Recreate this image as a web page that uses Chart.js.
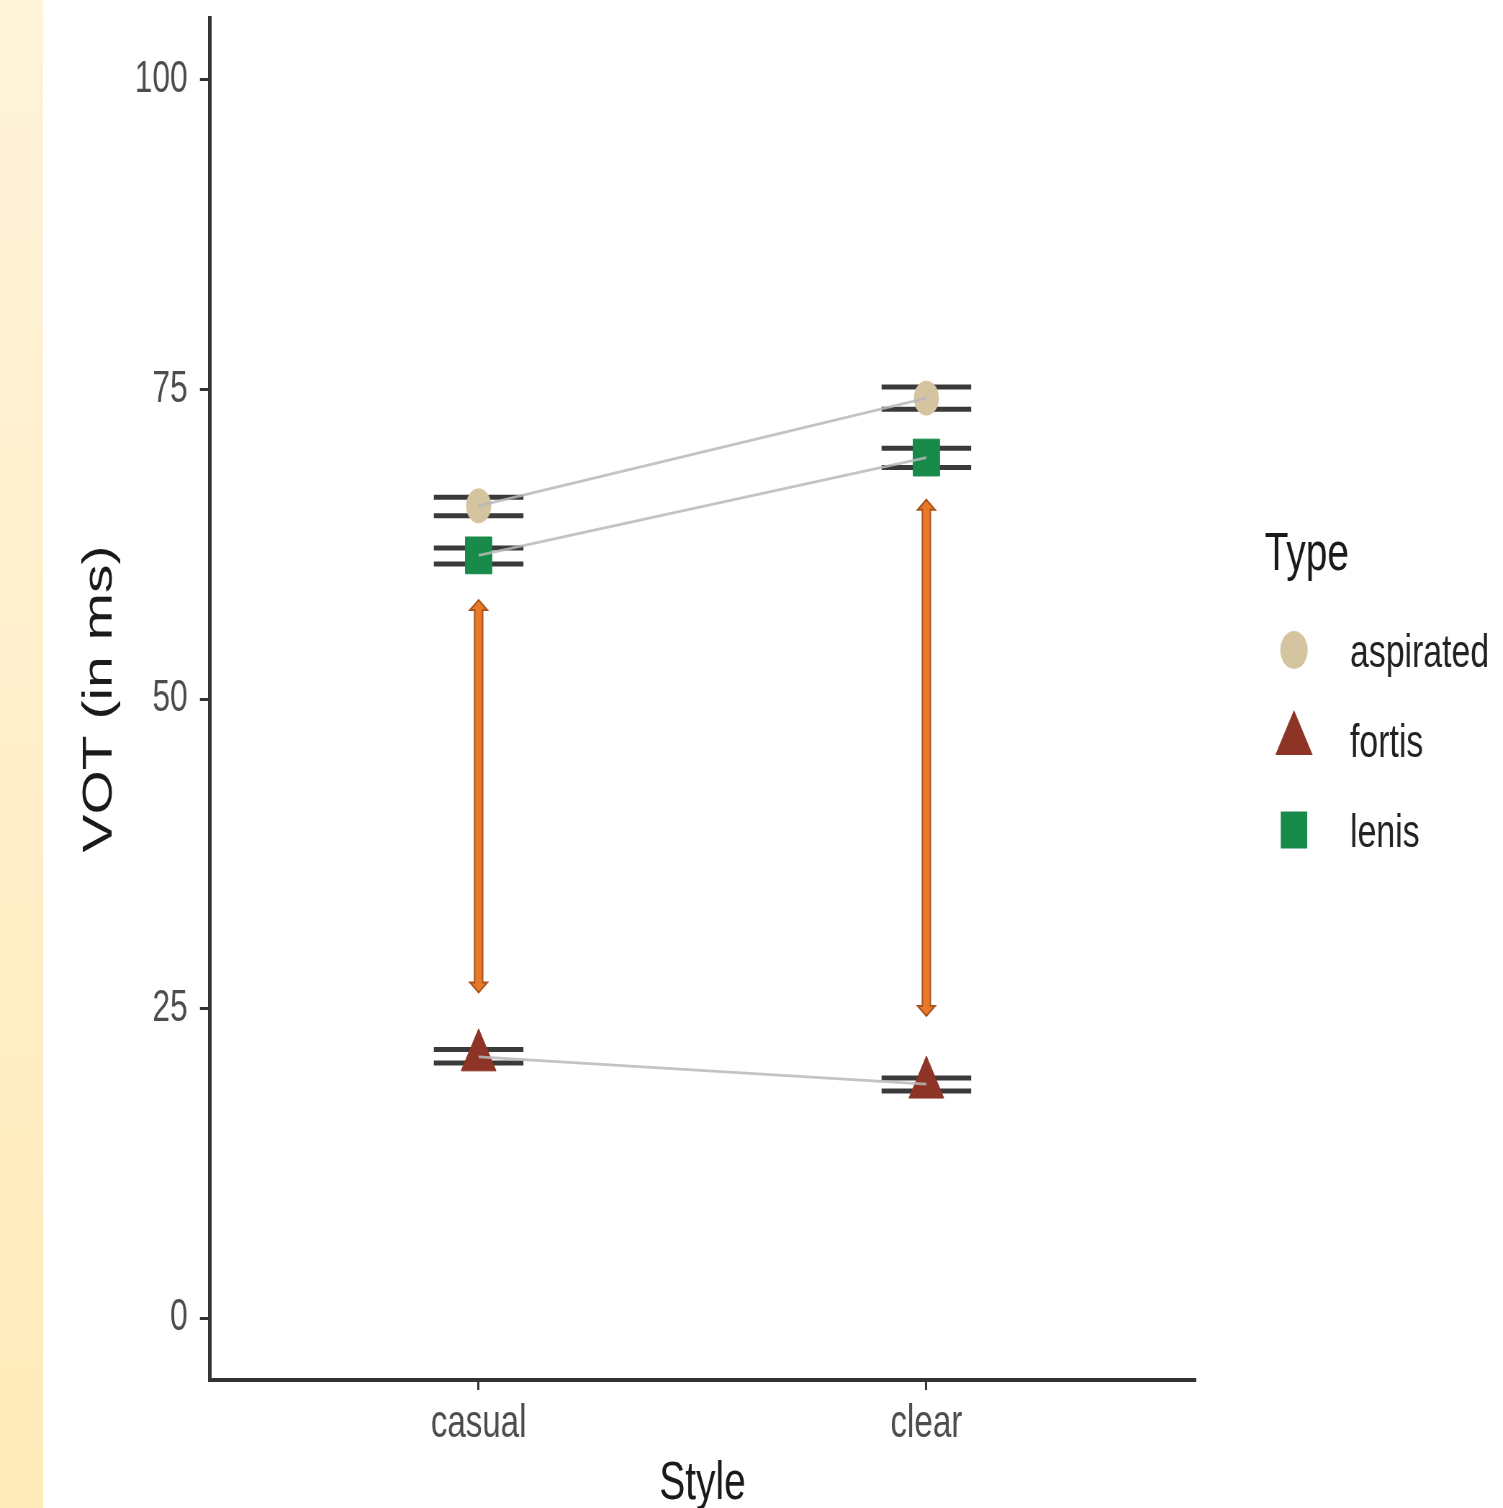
<!DOCTYPE html>
<html>
<head>
<meta charset="utf-8">
<title>VOT by speaking style</title>
<script src="https://cdn.jsdelivr.net/npm/chart.js@4.4.1/dist/chart.umd.min.js"></script>
<style>
  html, body { margin: 0; padding: 0; background: #ffffff; overflow: hidden; width: 1503px; height: 1508px; }
  #strip { position: absolute; left: 0; top: 0; width: 43px; height: 1508px;
           background: linear-gradient(#FFF3DA, #FFEAB9); }
  #wrap { position: absolute; left: 0; top: 0; width: 1503px; height: 1508px; overflow: hidden; }
  #plot { position: absolute; left: 0; top: 0; transform-origin: 0 0; }
</style>
</head>
<body>
<div id="strip"></div>
<div id="wrap"><canvas id="plot"></canvas></div>
<script>
// ---- data ----
const styles = ['casual', 'clear'];
const yTicks = [0, 25, 50, 75, 100];

const aspiratedMean = [65.6, 74.3];
const aspiratedLow  = [64.8, 73.4];
const aspiratedHigh = [66.3, 75.2];

const fortisMean = [21.1, 18.9];
const fortisLow  = [20.6, 18.35];
const fortisHigh = [21.7, 19.4];

const lenisMean = [61.6, 69.5];
const lenisLow  = [60.9, 68.7];
const lenisHigh = [62.2, 70.25];

// VOT gap between lenis/aspirated and fortis, per style
const gapTop    = [58.0, 66.1];
const gapBottom = [26.3, 24.4];

// ---- look ----
const SQUEEZE = 0.7198;                 // horizontal compression of the figure
const W = Math.round(1503 / SQUEEZE);   // drawing width before compression
const H = 1508;
const FONT = '"Liberation Sans", Arial, Helvetica, sans-serif';
const ERR_HALF = 0.1;                   // half-width of error-bar caps, in category units

const series = [
  { label: 'aspirated', mean: aspiratedMean, low: aspiratedLow, high: aspiratedHigh,
    color: '#D4C4A0', shape: 'circle', r: 17, legendR: 19 },
  { label: 'fortis', mean: fortisMean, low: fortisLow, high: fortisHigh,
    color: '#8E3427', shape: 'triangle', r: 28, legendR: 30 },
  { label: 'lenis', mean: lenisMean, low: lenisLow, high: lenisHigh,
    color: '#188A4A', shape: 'rect', r: 26, legendR: 26 }
];

const canvas = document.getElementById('plot');
canvas.width = W;
canvas.height = H;
canvas.style.width = W + 'px';
canvas.style.height = H + 'px';
canvas.style.transform = 'scaleX(' + SQUEEZE + ')';

const toPoints = arr => arr.map((v, i) => ({ x: i, y: v }));

const datasets = [];
series.forEach(s => {
  datasets.push({
    label: s.label,
    data: toPoints(s.mean),
    showLine: false,
    pointStyle: s.shape,
    pointRadius: s.r,
    pointBackgroundColor: s.color,
    pointBorderColor: s.color,
    pointBorderWidth: 1,
    order: 2
  });
  datasets.push({
    label: s.label + ' trend',
    data: toPoints(s.mean),
    showLine: true,
    borderColor: 'rgba(185,185,185,0.85)',
    borderWidth: 2.8,
    pointRadius: 0,
    fill: false,
    order: 1
  });
});

function drawMarker(ctx, shape, x, y, r, color) {
  ctx.save();
  ctx.fillStyle = color;
  ctx.beginPath();
  if (shape === 'circle') {
    ctx.arc(x, y, r, 0, Math.PI * 2);
  } else if (shape === 'triangle') {
    let a = 0;
    ctx.moveTo(x + Math.sin(a) * r, y - Math.cos(a) * r);
    a += Math.PI * 2 / 3;
    ctx.lineTo(x + Math.sin(a) * r, y - Math.cos(a) * r);
    a += Math.PI * 2 / 3;
    ctx.lineTo(x + Math.sin(a) * r, y - Math.cos(a) * r);
    ctx.closePath();
  } else {
    const h = r * Math.SQRT1_2;
    ctx.rect(x - h, y - h, 2 * h, 2 * h);
  }
  ctx.fill();
  ctx.restore();
}

const errorBars = {
  id: 'errorBars',
  beforeDatasetsDraw(chart) {
    const { ctx, scales: { x, y } } = chart;
    ctx.save();
    ctx.strokeStyle = '#3a3a3a';
    series.forEach(s => {
      s.mean.forEach((m, i) => {
        const xl = x.getPixelForValue(i - ERR_HALF);
        const xr = x.getPixelForValue(i + ERR_HALF);
        const xc = x.getPixelForValue(i);
        const yl = y.getPixelForValue(s.low[i]);
        const yh = y.getPixelForValue(s.high[i]);
        ctx.lineWidth = 5;
        ctx.beginPath();
        ctx.moveTo(xl, yh); ctx.lineTo(xr, yh);
        ctx.moveTo(xl, yl); ctx.lineTo(xr, yl);
        ctx.stroke();
        ctx.lineWidth = 3;
        ctx.beginPath();
        ctx.moveTo(xc, yh); ctx.lineTo(xc, yl);
        ctx.stroke();
      });
    });
    ctx.restore();
  }
};

const gapArrows = {
  id: 'gapArrows',
  afterDatasetsDraw(chart) {
    const { ctx, scales: { x, y } } = chart;
    const sw = 5.6, hw = 12, hl = 10;
    ctx.save();
    ctx.fillStyle = '#E8792B';
    ctx.strokeStyle = '#A9521A';
    ctx.lineWidth = 2;
    ctx.lineJoin = 'miter';
    styles.forEach((st, i) => {
      const cx = x.getPixelForValue(i);
      const t = y.getPixelForValue(gapTop[i]);
      const b = y.getPixelForValue(gapBottom[i]);
      ctx.beginPath();
      ctx.moveTo(cx, t);
      ctx.lineTo(cx + hw, t + hl);
      ctx.lineTo(cx + sw, t + hl);
      ctx.lineTo(cx + sw, b - hl);
      ctx.lineTo(cx + hw, b - hl);
      ctx.lineTo(cx, b);
      ctx.lineTo(cx - hw, b - hl);
      ctx.lineTo(cx - sw, b - hl);
      ctx.lineTo(cx - sw, t + hl);
      ctx.lineTo(cx - hw, t + hl);
      ctx.closePath();
      ctx.fill();
      ctx.stroke();
    });
    ctx.restore();
  }
};

const typeLegend = {
  id: 'typeLegend',
  afterDraw(chart) {
    const { ctx } = chart;
    const markerX = 1797.7, textX = 1875.5;
    const rows = [650, 740, 830];
    ctx.save();
    ctx.fillStyle = '#1a1a1a';
    ctx.font = '54px ' + FONT;
    ctx.textAlign = 'left';
    ctx.textBaseline = 'alphabetic';
    ctx.fillText('Type', 1757, 570);
    ctx.font = '47px ' + FONT;
    series.forEach((s, i) => {
      drawMarker(ctx, s.shape, markerX, rows[i], s.legendR, s.color);
      ctx.fillStyle = '#222222';
      ctx.fillText(s.label, textX, rows[i] + 17);
    });
    ctx.restore();
  }
};

// keep tick labels from pushing the plot area inward
function clearEdgePadding(scale) {
  scale.paddingTop = 0;
  scale.paddingBottom = 0;
  scale.paddingLeft = 0;
  scale.paddingRight = 0;
}

new Chart(canvas, {
  type: 'scatter',
  data: { datasets },
  plugins: [errorBars, gapArrows, typeLegend],
  options: {
    responsive: false,
    animation: false,
    devicePixelRatio: 1,
    events: [],
    layout: { autoPadding: false, padding: { top: 18, right: W - 1660.2, bottom: 0, left: 0 } },
    plugins: { legend: { display: false }, tooltip: { enabled: false } },
    scales: {
      x: {
        type: 'linear',
        min: -0.6,
        max: 1.6,
        afterBuildTicks(scale) { scale.ticks = styles.map((_, i) => ({ value: i })); },
        afterFit(scale) { scale.height = H - 1380; clearEdgePadding(scale); },
        ticks: {
          callback: (v, i) => styles[i],
          font: { family: FONT, size: 46 },
          color: '#4d4d4d',
          padding: 7,
          maxRotation: 0,
          autoSkip: false
        },
        grid: { drawOnChartArea: false, drawTicks: true, tickLength: 10, color: '#333333', lineWidth: 3 },
        border: { display: true, color: '#333333', width: 4 },
        title: {
          display: true, text: 'Style', color: '#1a1a1a', padding: 0,
          font: { family: FONT, size: 54, lineHeight: 0.9 }
        }
      },
      y: {
        type: 'linear',
        min: -5,
        max: 105,
        afterBuildTicks(scale) { scale.ticks = yTicks.map(v => ({ value: v })); },
        afterFit(scale) { scale.width = 291.7; clearEdgePadding(scale); },
        ticks: {
          font: { family: FONT, size: 44 },
          color: '#4d4d4d',
          padding: 17
        },
        grid: { drawOnChartArea: false, drawTicks: true, tickLength: 14, color: '#333333', lineWidth: 3 },
        border: { display: true, color: '#333333', width: 5 },
        title: {
          display: true, text: 'VOT (in ms)', color: '#1a1a1a',
          padding: { top: 104.8, bottom: 0 },
          font: { family: FONT, size: 57 }
        }
      }
    }
  }
});
</script>
</body>
</html>
